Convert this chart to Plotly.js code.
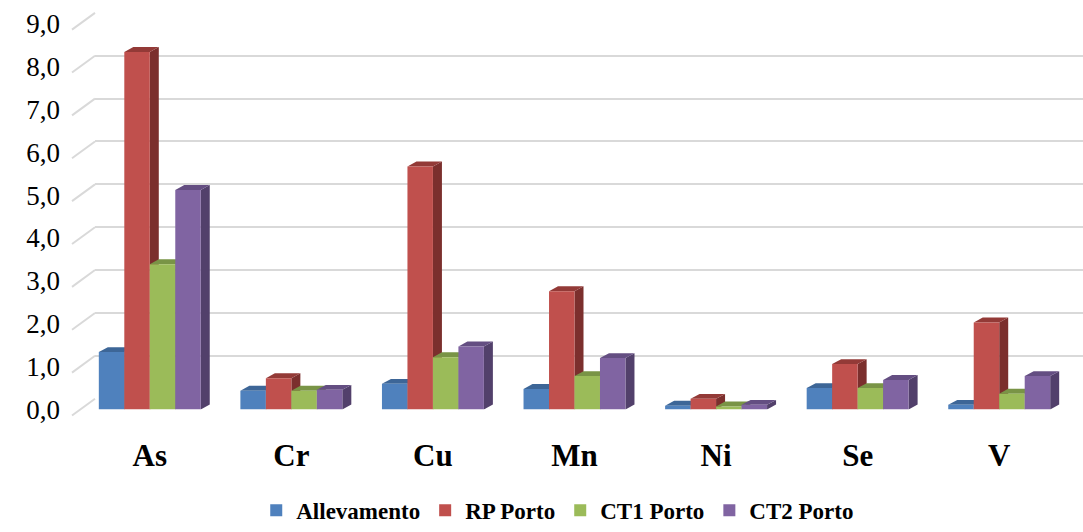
<!DOCTYPE html>
<html>
<head>
<meta charset="utf-8">
<script src="https://cdn.plot.ly/plotly-3.0.1.min.js"></script>
<style>html,body{margin:0;padding:0;background:#fff;}#chart{width:1083px;height:532px;}</style>
</head>
<body>
<div id="chart"></div>
<script>
const categories = ['As', 'Cr', 'Cu', 'Mn', 'Ni', 'Se', 'V'];
const seriesNames = ['Allevamento', 'RP Porto', 'CT1 Porto', 'CT2 Porto'];
const allevamento = [1.34, 0.44, 0.60, 0.48, 0.09, 0.50, 0.11];
const rpPorto     = [8.34, 0.73, 5.67, 2.76, 0.25, 1.06, 2.03];
const ct1Porto    = [3.39, 0.44, 1.22, 0.78, 0.07, 0.50, 0.37];
const ct2Porto    = [5.12, 0.46, 1.47, 1.20, 0.11, 0.69, 0.78];
const yTicks = [0, 1, 2, 3, 4, 5, 6, 7, 8, 9];

const frontColors = ['#4f81bd', '#c0504d', '#9bbb59', '#8064a2'];
const topColors   = ['#3d6697', '#933a37', '#799446', '#644e82'];
const sideColors  = ['#34577f', '#7b2f2d', '#657b3a', '#52406b'];

const SERIF = 'Liberation Serif, Times New Roman, serif';
const W = 1083, H = 532;
const seriesData = [allevamento, rpPorto, ct1Porto, ct2Porto];
const xIdx = categories.map((c, i) => i);

// geometry (pixels)
const frontLeft = 79, frontRight = 1070, frontZero = 415, frontTop = 24;
const backLeft = 95, backZero = 404, backTop = 13;
const pxPerUnitX = (frontRight - frontLeft) / 7;
const pxPerUnitY = (frontZero - frontTop) / 9;
const depthX = 9 / pxPerUnitX;
const depthY = 5 / pxPerUnitY;
const bargap = 0.28;
const barW = (1 - bargap) / 4;

const traces = [];
traces.push({x: [0], y: [0], xaxis: 'x', yaxis: 'y', type: 'scatter', mode: 'markers',
  marker: {opacity: 0}, showlegend: false, hoverinfo: 'skip'});
seriesData.forEach((vals, k) => {
  traces.push({
    type: 'bar', name: '<b>' + seriesNames[k] + '</b>', x: xIdx, y: vals,
    xaxis: 'x2', yaxis: 'y2',
    marker: {color: frontColors[k], line: {width: 0}},
    hovertemplate: '%{y:.2f}<extra>' + seriesNames[k] + '</extra>'
  });
});

const shapes = [];
seriesData.forEach((vals, k) => {
  vals.forEach((v, i) => {
    const xl = i - (1 - bargap) / 2 + k * barW;
    const xr = xl + barW;
    shapes.push({type: 'path', xref: 'x2', yref: 'y2', layer: 'between',
      path: `M ${xr},0 L ${xr},${v} L ${xr + depthX},${v + depthY} L ${xr + depthX},${depthY} Z`,
      fillcolor: sideColors[k], line: {width: 0}});
    shapes.push({type: 'path', xref: 'x2', yref: 'y2', layer: 'between',
      path: `M ${xl},${v} L ${xr},${v} L ${xr + depthX},${v + depthY} L ${xl + depthX},${v + depthY} Z`,
      fillcolor: topColors[k], line: {width: 0}});
  });
});
yTicks.forEach(v => {
  const yFront = frontZero - pxPerUnitY * v + 6;
  const yBack = backZero - ((backZero - backTop) / 9) * v;
  shapes.push({type: 'line', xref: 'paper', yref: 'paper', layer: 'below',
    x0: 72 / W, y0: (H - yFront) / H, x1: backLeft / W, y1: (H - yBack) / H,
    line: {color: '#d9d9d9', width: 2}});
});

const layout = {
  width: W, height: H,
  margin: {l: 0, r: 0, t: 0, b: 0},
  paper_bgcolor: '#ffffff', plot_bgcolor: 'rgba(0,0,0,0)',
  separators: ',.',
  font: {family: SERIF, color: '#000'},
  barmode: 'group', bargap: bargap, bargroupgap: 0,
  showlegend: true,
  legend: {orientation: 'h', x: 0.515, xanchor: 'center', y: (H - 517) / H, yanchor: 'middle',
    font: {size: 23, family: SERIF, color: '#000'},
    itemwidth: 30, tracegroupgap: 0, bgcolor: 'rgba(0,0,0,0)'},
  xaxis: {domain: [backLeft / W, 1], range: [0, 1], showgrid: false, zeroline: false,
    showticklabels: false, showline: false, fixedrange: true},
  yaxis: {domain: [(H - backZero) / H, (H - backTop) / H], range: [0, 9], tickvals: yTicks,
    showgrid: true, gridcolor: '#d9d9d9', gridwidth: 2, zeroline: false,
    showticklabels: false, showline: false, fixedrange: true},
  xaxis2: {domain: [frontLeft / W, frontRight / W], range: [-0.5, 6.5], anchor: 'y2',
    tickvals: xIdx, ticktext: categories, showgrid: false, zeroline: false, showline: false,
    ticks: '', ticklabelstandoff: 24,
    tickfont: {size: 31, weight: 'bold', family: SERIF}},
  yaxis2: {domain: [(H - frontZero) / H, (H - frontTop) / H], range: [0, 9], anchor: 'x2',
    tickvals: yTicks, tickformat: '.1f', showgrid: false, zeroline: false, showline: false,
    ticks: '', ticklabelstandoff: 18,
    tickfont: {size: 27, family: SERIF}},
  shapes: shapes
};

Plotly.newPlot('chart', traces, layout, {displayModeBar: false, staticPlot: true});
</script>
</body>
</html>
